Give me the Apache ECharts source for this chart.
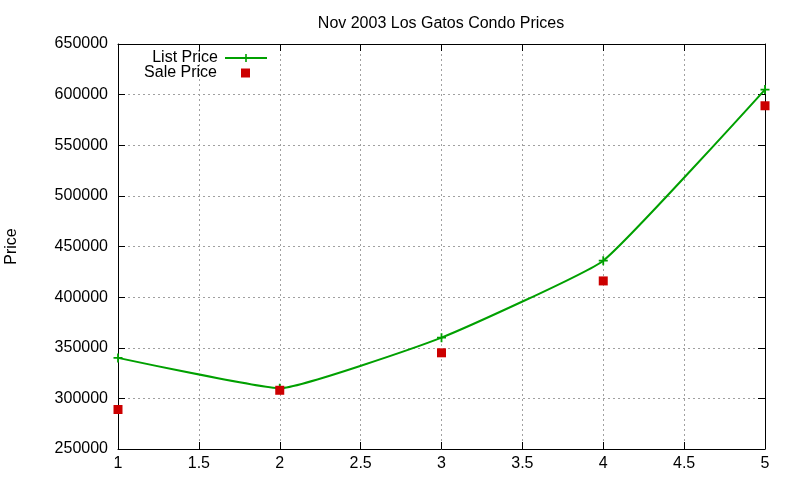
<!DOCTYPE html>
<html>
<head>
<meta charset="utf-8">
<script src="https://cdn.jsdelivr.net/npm/echarts@6/dist/echarts.min.js"></script>
<style>
  html, body { margin: 0; padding: 0; background: #fff; }
  #chart { width: 800px; height: 480px; }
</style>
</head>
<body>
<div id="chart"></div>
<script>
var xValues = [1, 2, 3, 4, 5];
var listPrice = [340000, 310000, 360000, 436000, 605000];
var salePrice = [289000, 308000, 345000, 416000, 589000];

var FONT = '"Liberation Sans", Arial, sans-serif';
var GREEN = '#00a000';
var RED = '#cc0000';
var PLUS = 'path://M4,0h2v4h4v2h-4v4h-2v-4h-4v-2h4z';

function pairs(xs, ys) {
    var out = [];
    for (var i = 0; i < xs.length; i++) {
        out.push([xs[i], ys[i]]);
    }
    return out;
}

var myChart = echarts.init(document.getElementById('chart'));
var option = {
    animation: false,
    backgroundColor: '#fff',
    title: {
        text: 'Nov 2003 Los Gatos Condo Prices',
        left: 436, top: 11, textAlign: 'center',
        textStyle: { fontFamily: FONT, fontSize: 16, fontWeight: 'normal', color: '#000' }
    },
    legend: [{
        data: ['List Price'],
        right: 527, top: 45,
        align: 'right',
        itemWidth: 42, itemHeight: 10,
        itemGap: 0,
        textStyle: { fontFamily: FONT, fontSize: 16, color: '#000', padding: [0, 2, 0, 0] }
    }, {
        data: ['Sale Price'],
        right: 545, top: 60,
        align: 'right',
        itemWidth: 9, itemHeight: 9,
        icon: 'rect',
        itemStyle: { opacity: 1 },
        textStyle: { fontFamily: FONT, fontSize: 16, color: '#000', padding: [0, 19, 0, 0] }
    }],
    grid: { left: 118, right: 35, top: 44, bottom: 31, outerBoundsMode: 'none' },
    xAxis: [{
        type: 'value', min: 1, max: 5, interval: 0.5,
        axisLine: { show: true, onZero: false, lineStyle: { color: '#000', width: 1 } },
        axisTick: { show: true, inside: true, length: 7, lineStyle: { color: '#000' } },
        axisLabel: { fontFamily: FONT, fontSize: 16, color: '#000', margin: 7 },
        splitLine: { show: true, lineStyle: { color: '#a0a0a0', type: [2, 3], width: 1 } }
    }, {
        type: 'value', min: 1, max: 5, interval: 0.5, position: 'top',
        axisLine: { show: true, onZero: false, lineStyle: { color: '#000', width: 1 } },
        axisTick: { show: true, inside: true, length: 7, lineStyle: { color: '#000' } },
        axisLabel: { show: false },
        splitLine: { show: false }
    }],
    yAxis: [{
        type: 'value', min: 250000, max: 650000, interval: 50000,
        name: 'Price', nameLocation: 'middle', nameGap: 98, nameRotate: 90,
        nameTextStyle: { fontFamily: FONT, fontSize: 16, color: '#000' },
        axisLine: { show: true, onZero: false, lineStyle: { color: '#000', width: 1 } },
        axisTick: { show: true, inside: true, length: 7, lineStyle: { color: '#000' } },
        axisLabel: {
            fontFamily: FONT, fontSize: 16, color: '#000', margin: 10,
            formatter: function (v) { return String(v); }
        },
        splitLine: { show: true, lineStyle: { color: '#a0a0a0', type: [2, 3], width: 1 } }
    }, {
        type: 'value', min: 250000, max: 650000, interval: 50000, position: 'right',
        axisLine: { show: true, onZero: false, lineStyle: { color: '#000', width: 1 } },
        axisTick: { show: true, inside: true, length: 7, lineStyle: { color: '#000' } },
        axisLabel: { show: false },
        splitLine: { show: false }
    }],
    series: [{
        name: 'List Price',
        type: 'line',
        data: pairs(xValues, listPrice),
        smooth: 0.12,
        symbol: PLUS,
        symbolSize: 9,
        itemStyle: { color: GREEN },
        lineStyle: { color: GREEN, width: 2 },
        z: 3
    }, {
        name: 'Sale Price',
        type: 'scatter',
        data: pairs(xValues, salePrice),
        symbol: 'rect',
        symbolSize: 9,
        itemStyle: { color: RED, opacity: 1 },
        z: 4
    }]
};
myChart.setOption(option);
</script>
</body>
</html>
